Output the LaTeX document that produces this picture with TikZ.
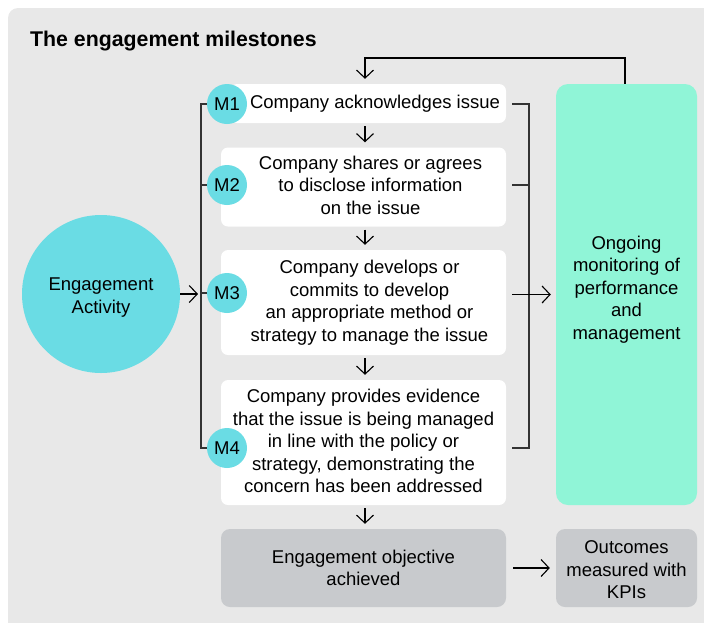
\documentclass[tikz,border=0pt]{standalone}
\usepackage{fontspec}
\setmainfont{Liberation Sans}
\usetikzlibrary{arrows.meta}

\definecolor{panelgrey}{HTML}{E8E8E8}
\definecolor{badgecyan}{HTML}{6ADCE4}
\definecolor{mintgreen}{HTML}{90F5D7}
\definecolor{goalgrey}{HTML}{C8CACD}

\tikzset{
  milestone/.style={fill=white, rounded corners=7pt, inner sep=0pt},
  greybox/.style={fill=goalgrey, rounded corners=9pt, inner sep=0pt},
  boxtext/.style={align=center, inner sep=0pt},
  badge/.style={circle, fill=badgecyan, minimum size=40pt, inner sep=0pt},
  link/.style={line width=1.1pt, -{Straight Barb[length=8pt,width=17pt]}},
  bracket/.style={line width=1.3pt, draw=black!80},
}

\begin{document}
\begin{tikzpicture}[x=1pt, y=-1pt, font=\fontsize{18.5}{22.5}\selectfont]
    \useasboundingbox (0,0) rectangle (704,622);
    \clip (0,0) rectangle (704,622);
    \fill[panelgrey, rounded corners=10pt] (8,8) rectangle (724,650);
    \node[anchor=west, inner sep=0pt, font=\fontsize{21.3}{25}\selectfont\bfseries] (title) at (30,41) {The engagement milestones};

    % boxes
    \node[milestone, minimum width=276pt, minimum height=39pt] (m1) at (368,103.5) {};
    \node[milestone, minimum width=285pt, minimum height=79pt] (m2) at (363.5,187) {};
    \node[milestone, minimum width=285pt, minimum height=105pt] (m3) at (363.5,302.5) {};
    \node[milestone, minimum width=285pt, minimum height=125pt] (m4) at (363.5,442.5) {};
    \node[greybox, minimum width=285pt, minimum height=78pt] (goal) at (363.5,568) {};
    \node[fill=mintgreen, rounded corners=12pt, minimum width=141pt, minimum height=421pt] (monitor) at (626.5,294.5) {};
    \node[greybox, minimum width=141pt, minimum height=78pt] (outcome) at (626.5,568) {};
    \node[circle, fill=badgecyan, minimum size=158pt, inner sep=0pt] (activity) at (101,294) {};

    % texts
    \node[boxtext] (m1t) at ([xshift=7pt]m1) {Company acknowledges issue};
    \node[boxtext] (m2t) at ([xshift=7pt,yshift=2pt]m2) {Company shares or agrees\\to disclose information\\on the issue};
    \node[boxtext] (m3t) at ([xshift=6pt]m3) {Company develops or\\commits to develop\\an appropriate method or\\strategy to manage the issue};
    \node[boxtext] (m4t) at ([yshift=1.5pt]m4) {Company provides evidence\\that the issue is being managed\\in line with the policy or\\strategy, demonstrating the\\concern has been addressed};
    \node[boxtext] (goalt) at (goal) {Engagement objective\\achieved};
    \node[boxtext] (monitort) at ([yshift=5pt]monitor) {Ongoing\\monitoring of\\performance\\and\\management};
    \node[boxtext] (outcomet) at ([yshift=-2pt]outcome) {Outcomes\\measured with\\KPIs};
    \node[boxtext] (activityt) at ([yshift=-3.5pt]activity) {Engagement\\Activity};

    % badges
    \node[badge] (b1) at (227,104) {M1};
    \node[badge] (b2) at (227,185) {M2};
    \node[badge] (b3) at (227,293) {M3};
    \node[badge] (b4) at (227,448) {M4};

    \coordinate (lb) at (201,0);
    \coordinate (rb) at (529,0);
    \coordinate (fb) at (365,58);

    % brackets
    \draw[bracket] (b1.west) -- (lb |- b1) -- (lb |- b4) -- (b4.west);
    \draw[bracket] (b2.west) -- (lb |- b2);
    \draw[bracket] (b3.west) -- (lb |- b3);
    \draw[bracket] ([xshift=6pt]m1.east |- b1) -- (rb |- b1) -- (rb |- b4) -- ([xshift=6pt]m4.east |- b4);
    \draw[bracket] ([xshift=6pt]m2.east |- b2) -- (rb |- b2);

    % arrows
    \draw[link, shorten <=3pt, shorten >=5pt] (m1.south -| fb) -- (m2.north -| fb);
    \draw[link, shorten <=3pt, shorten >=5pt] (m2.south -| fb) -- (m3.north -| fb);
    \draw[link, shorten <=3pt, shorten >=5pt] (m3.south -| fb) -- (m4.north -| fb);
    \draw[link, shorten <=3pt, shorten >=5pt] (m4.south -| fb) -- (goal.north -| fb);
    \draw[link, shorten >=5pt] ([xshift=-1.5pt]monitor.north) |- (fb) -- (fb |- m1.north);
    \draw[link] (activity.east) -- ([xshift=-3pt]lb |- activity);
    \draw[link] ([xshift=6pt]m3.east |- monitor.west) -- ([xshift=-5pt]monitor.west);
    \draw[link] ([xshift=7pt]goal.east) -- ([xshift=-6pt]outcome.west);
\end{tikzpicture}
\end{document}
